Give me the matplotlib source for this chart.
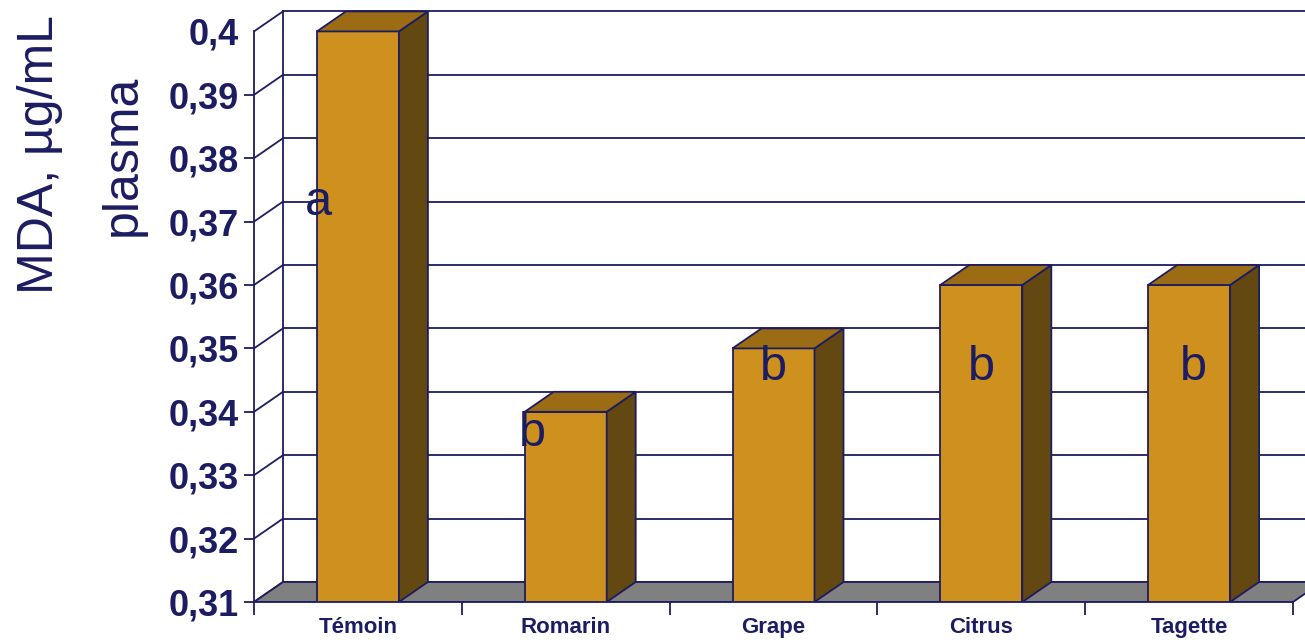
import matplotlib.pyplot as plt
from matplotlib.patches import Polygon, Rectangle

categories = ['Témoin', 'Romarin', 'Grape', 'Citrus', 'Tagette']
mda = [0.40, 0.34, 0.35, 0.36, 0.36]
letters = ['a', 'b', 'b', 'b', 'b']
yticks = [0.31, 0.32, 0.33, 0.34, 0.35, 0.36, 0.37, 0.38, 0.39, 0.40]
ytick_labels = ['0,31', '0,32', '0,33', '0,34', '0,35', '0,36', '0,37', '0,38', '0,39', '0,4']

# letter placement (x offset from category centre, y in value units)
letter_pos = [(-0.19, 0.373), (-0.16, 0.3365), (0.0, 0.347), (0.0, 0.347), (0.02, 0.347)]

plt.rcParams['font.family'] = ['Liberation Sans', 'DejaVu Sans']
navy = '#1c1c62'
front_c = '#cf911d'
top_c = '#9b6c14'
side_c = '#644812'

W, H = 1305, 643
fig = plt.figure(figsize=(W / 100, H / 100), dpi=100)
ax = fig.add_axes([254 / W, 41 / H, (W - 254) / W, 602 / H])

px_x = 207.8   # pixels per category
px_y = 63.4    # pixels per 0.01
xmax = (W - 254) / px_x
ymin = 0.31
ymax = ymin + 602 / px_y * 0.01
ax.set_xlim(0, xmax)
ax.set_ylim(ymin, ymax)

dx = 29 / px_x
dy = 20 / px_y * 0.01
n = len(categories)

# back wall grid + left wall diagonals
for v in yticks:
    ax.plot([dx, xmax + 1], [v + dy, v + dy], color=navy, lw=1.3, zorder=1)
    ax.plot([0, dx], [v, v + dy], color=navy, lw=1.3, zorder=1)
ax.plot([dx, dx], [ymin + dy, 0.40 + dy], color=navy, lw=1.3, zorder=1)

# floor
floor = Polygon([(0, ymin), (n, ymin), (n + dx, ymin + dy), (dx, ymin + dy)],
                closed=True, facecolor='#808080', edgecolor=navy, lw=1.3, zorder=2)
ax.add_patch(floor)

# bars
bw = 82 / px_x
for i, v in enumerate(mda):
    c = i + 0.5
    x0, x1 = c - bw / 2, c + bw / 2
    ax.add_patch(Rectangle((x0, ymin), bw, v - ymin, facecolor=front_c,
                           edgecolor=navy, lw=1.3, zorder=3))
    ax.add_patch(Polygon([(x1, ymin), (x1 + dx, ymin + dy), (x1 + dx, v + dy), (x1, v)],
                         closed=True, facecolor=side_c, edgecolor=navy, lw=1.3, zorder=3))
    ax.add_patch(Polygon([(x0, v), (x1, v), (x1 + dx, v + dy), (x0 + dx, v + dy)],
                         closed=True, facecolor=top_c, edgecolor=navy, lw=1.3, zorder=3))
    ox, oy = letter_pos[i]
    ax.text(c + ox, oy, letters[i], fontsize=35, color=navy, ha='center', va='center', zorder=4)

# axes
for s in ['top', 'right']:
    ax.spines[s].set_visible(False)
ax.spines['left'].set_bounds(ymin, 0.40)
ax.spines['bottom'].set_bounds(0, n)
ax.spines['left'].set_color(navy)
ax.spines['bottom'].set_color(navy)
ax.spines['left'].set_linewidth(1.3)
ax.spines['bottom'].set_linewidth(1.3)
ax.spines['left'].set_zorder(5)

ax.set_yticks(yticks)
ax.set_yticklabels(ytick_labels, fontsize=26, fontweight='bold', color=navy)
ax.yaxis.get_major_ticks()[-1].tick1line.set_visible(False)
ax.tick_params(axis='y', length=7, width=1.3, color=navy, pad=4)

ax.set_xticks(range(n + 1))
ax.set_xticklabels([''] * (n + 1))
ax.set_xticks([i + 0.5 for i in range(n)], minor=True)
ax.set_xticklabels(categories, minor=True, fontsize=16, fontweight='bold', color=navy)
ax.tick_params(axis='x', which='major', length=9, width=1.3, color=navy, direction='out')
ax.tick_params(axis='x', which='minor', length=0, pad=11)

fig.text(40 / W, 1 - 155 / H, 'MDA, µg/mL', rotation=90, fontsize=36, color=navy,
         ha='center', va='center')
fig.text(123 / W, 1 - 155 / H, 'plasma', rotation=90, fontsize=36, color=navy,
         ha='center', va='center')

fig.savefig('out.png', dpi=100)
